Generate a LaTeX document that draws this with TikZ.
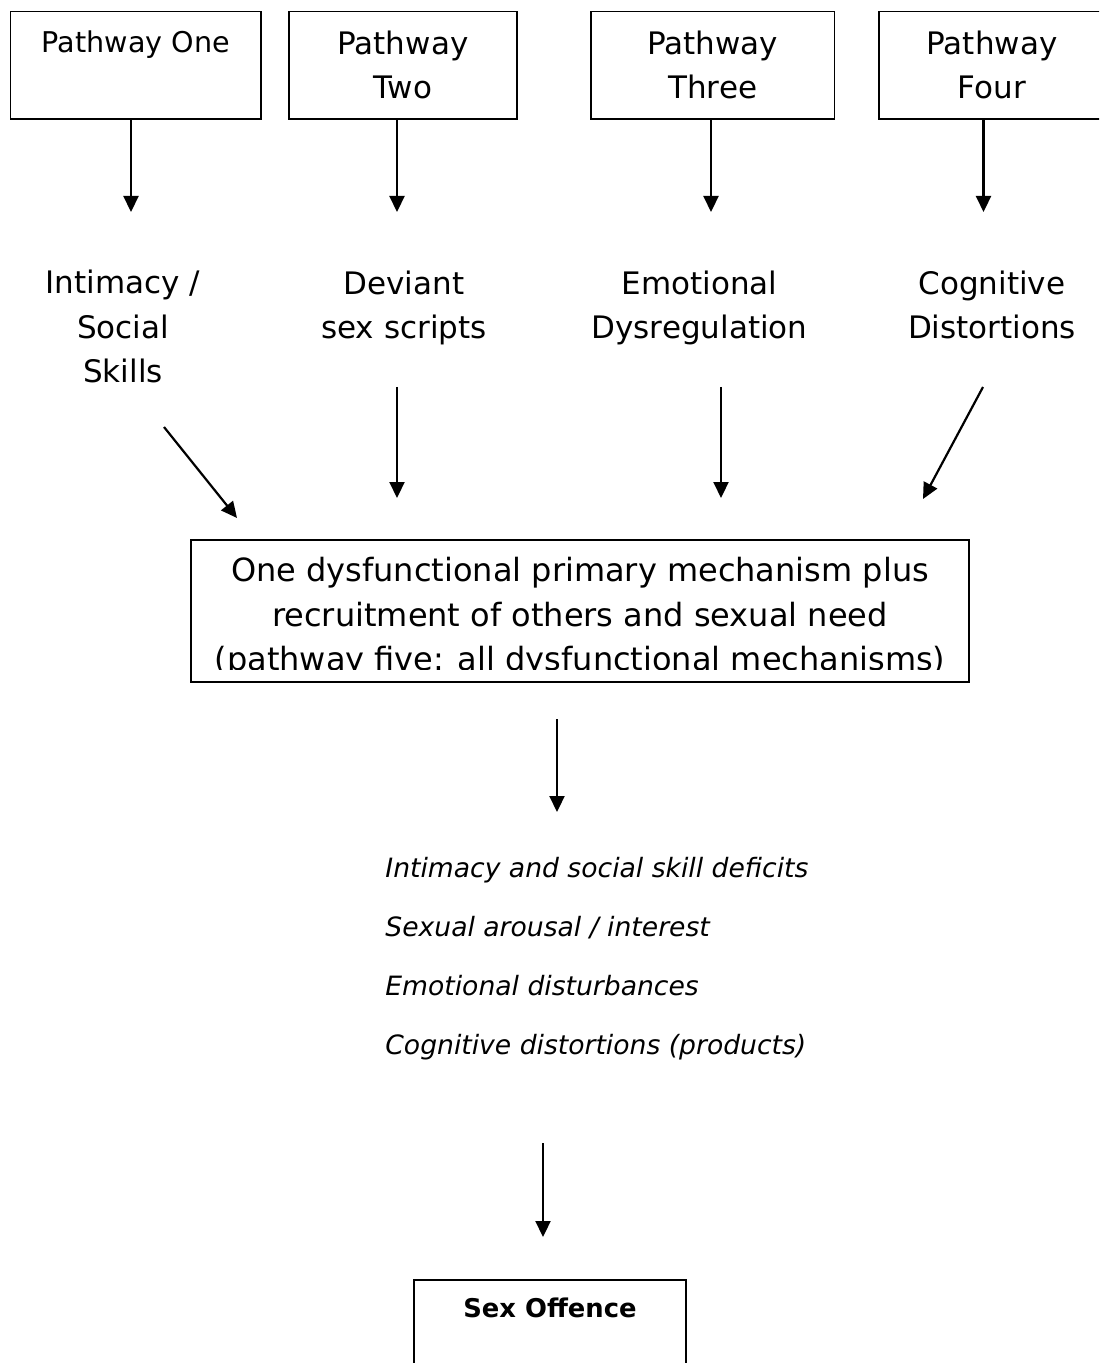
\documentclass[tikz,border=0pt]{standalone}
\usepackage{fontspec}
\setmainfont{DejaVu Sans}
\usetikzlibrary{arrows.meta}

\tikzset{
	arr/.style={line width=1.1pt, -{Triangle[width=7.5pt,length=8pt]}},
	pathbox/.style={draw, line width=0.85pt, minimum height=53.7pt, align=center, inner sep=0pt, font=\fontsize{15.5}{22}\selectfont},
	factor/.style={align=center, inner sep=0pt, font=\fontsize{15.5}{22.25}\selectfont},
	mechbox/.style={draw, line width=0.85pt, minimum width=389pt, minimum height=71pt, inner sep=0pt},
	mechtext/.style={align=center, inner sep=0pt, font=\fontsize{16}{22.15}\selectfont},
	statelist/.style={align=left, inner sep=0pt, anchor=north west, font=\fontsize{13.3}{29.5}\selectfont\itshape},
	offbox/.style={draw, line width=0.85pt, minimum width=136pt, anchor=north, inner sep=9pt, align=center, font=\fontsize{12.9}{16}\selectfont\bfseries}
}

\begin{document}
\begin{tikzpicture}[x=0.5pt, y=-0.5pt]
	%%%%% START %%%%%
	\clip (0,0) rectangle (1099,1363);
	
	\node[pathbox, minimum width=125.2pt, font=\fontsize{14.3}{18}\selectfont] (p1) at (135.8,65.3) {Pathway One\\ \strut};
	\node[pathbox, minimum width=113.9pt] (p2) at (402.9,65.3) {Pathway\\Two};
	\node[pathbox, minimum width=121.7pt] (p3) at (712.7,65.3) {Pathway\\Three};
	\node[pathbox, minimum width=113pt] (p4) at (992,65.3) {Pathway\\Four};
	
	\coordinate (t1) at (131,212);
	\coordinate (t2) at (397,212);
	\coordinate (t3) at (711,212);
	\coordinate (t4) at (983.5,212);
	\draw[arr] (t1 |- p1.south) -- (t1);
	\draw[arr] (t2 |- p2.south) -- (t2);
	\draw[arr] (t3 |- p3.south) -- (t3);
	\draw[arr] (t4 |- p4.south) -- (t4);
	
	\node[factor] (f1) at (123,329.6) {\strut Intimacy /\\Social\\Skills\strut};
	\node[factor] (f2) at (404,307.4) {\strut Deviant\\sex scripts\strut};
	\node[factor] (f3) at (699.5,307.4) {\strut Emotional\\Dysregulation\strut};
	\node[factor] (f4) at (992,307.4) {\strut Cognitive\\Distortions\strut};
	
	\coordinate (f1a) at (164,427);
	\coordinate (f1b) at (237,518);
	\coordinate (f2a) at (397,387);
	\coordinate (f2b) at (397,498);
	\coordinate (f3a) at (721,387);
	\coordinate (f3b) at (721,498);
	\coordinate (f4a) at (983,387);
	\coordinate (f4b) at (923,499);
	\draw[arr] (f1a) -- (f1b);
	\draw[arr] (f2a) -- (f2b);
	\draw[arr] (f3a) -- (f3b);
	\draw[arr] (f4a) -- (f4b);
	
	\node[mechbox] (mech) at (580,611) {};
	\begin{scope}
		\clip (mech.north west) rectangle (969,669.5);
		\node[mechtext] (mechtxt) at (580,617.2) {One dysfunctional primary mechanism plus\\recruitment of others and sexual need\\(pathway five: all dysfunctional mechanisms)};
	\end{scope}
	
	\coordinate (m1) at (557,719);
	\coordinate (m2) at (557,812);
	\draw[arr] (m1) -- (m2);
	
	\node[statelist] (states) at (385,856.5) {Intimacy and social skill deficits\\Sexual arousal / interest\\Emotional disturbances\\Cognitive distortions (products)};
	
	\coordinate (s1) at (543,1143);
	\coordinate (s2) at (543,1237);
	\draw[arr] (s1) -- (s2);
	
	\node[offbox] (offence) at (550,1279) {Sex Offence\\ \strut};
	
	%%%%% END %%%%%
\end{tikzpicture}
\end{document}
